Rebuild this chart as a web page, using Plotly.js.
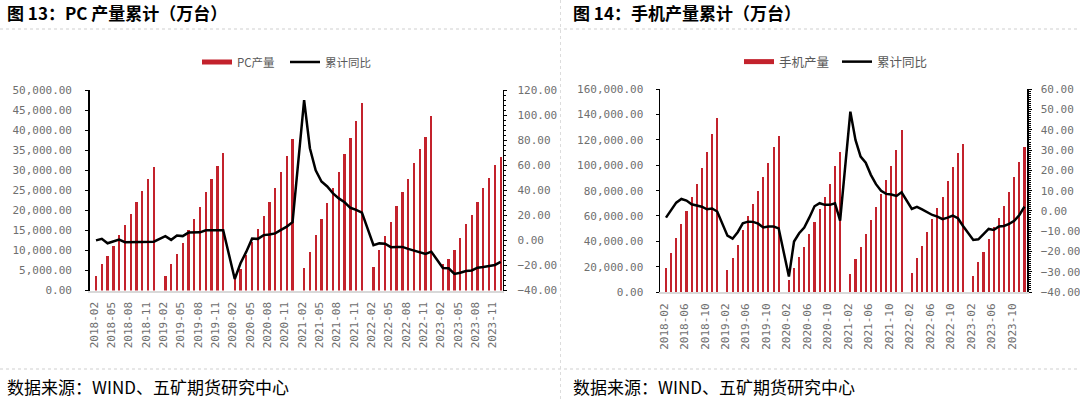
<!DOCTYPE html>
<html><head><meta charset="utf-8">
<script src="https://cdn.plot.ly/plotly-3.0.1.min.js"></script>
<style>html,body{margin:0;padding:0;background:#fff;}#chart{width:1080px;height:399px;}</style>
</head><body><div id="chart"></div>
<script>
// ---- categories (monthly, January has no cumulative data) ----
const months = [
 '2018-02','2018-03','2018-04','2018-05','2018-06','2018-07','2018-08','2018-09','2018-10','2018-11','2018-12',
 '2019-01','2019-02','2019-03','2019-04','2019-05','2019-06','2019-07','2019-08','2019-09','2019-10','2019-11','2019-12',
 '2020-01','2020-02','2020-03','2020-04','2020-05','2020-06','2020-07','2020-08','2020-09','2020-10','2020-11','2020-12',
 '2021-01','2021-02','2021-03','2021-04','2021-05','2021-06','2021-07','2021-08','2021-09','2021-10','2021-11','2021-12',
 '2022-01','2022-02','2022-03','2022-04','2022-05','2022-06','2022-07','2022-08','2022-09','2022-10','2022-11','2022-12',
 '2023-01','2023-02','2023-03','2023-04','2023-05','2023-06','2023-07','2023-08','2023-09','2023-10','2023-11','2023-12'
];
const pcTickLabels = ['2018-02','2018-05','2018-08','2018-11','2019-02','2019-05','2019-08','2019-11','2020-02','2020-05','2020-08','2020-11',
 '2021-02','2021-05','2021-08','2021-11','2022-02','2022-05','2022-08','2022-11','2023-02','2023-05','2023-08','2023-11'];
const phoneTickLabels = ['2018-02','2018-06','2018-10','2019-02','2019-06','2019-10','2020-02','2020-06','2020-10',
 '2021-02','2021-06','2021-10','2022-02','2022-06','2022-10','2023-02','2023-06','2023-10'];

// ---- 图13: PC 产量累计 (万台) ----
const pcOutput = [
 3690, 6600, 8600, 11170, 13760, 16260, 19000, 22070, 24810, 27730, 30800,
 null, 3690, 6600, 9020, 11770, 15010, 17910, 20820, 24560, 27730, 30970, 34210,
 null, 2870, 5360, 8780, 12170, 15260, 18650, 21990, 25640, 29550, 33540, 37860,
 null, 5690, 9680, 13920, 17830, 21900, 25560, 29550, 33960, 37950, 42270, 46830,
 null, 5860, 10100, 13590, 17010, 21150, 24560, 27890, 31720, 35210, 38250, 43590,
 null, 6500, 7930, 10100, 13170, 16580, 18830, 22070, 25480, 28130, 31220, 33220
];
const pcYoY = [
 0, 1.2, -2.3, -0.6, 0.6, -1.4, -1.4, -1.0, -1.4, -1.4, -1.0,
 null, 3.4, 0.4, 3.8, 3.4, 6.2, 6.4, 6.4, 8.1, 8.1, 8.1, 8.1,
 null, -30.8, -18.3, -9.0, 1.4, 1.2, 4.2, 4.7, 5.6, 8.4, 11.0, 14.5,
 null, 112.0, 73.5, 56.0, 47.0, 43.0, 37.5, 33.5, 30.4, 26.0, 24.4, 22.2,
 null, -3.8, -2.4, -2.6, -5.4, -5.2, -5.2, -6.8, -8.2, -9.2, -10.8, -9.0,
 null, -22.0, -22.3, -26.8, -25.8, -24.4, -24.0, -21.8, -21.2, -20.6, -19.6, -17.2
];

// ---- 图14: 手机产量累计 (万台) ----
const phoneOutput = [
 18940, 30780, 42880, 53400, 64200, 75250, 84980, 97600, 110240, 124440, 137600,
 null, 17100, 26570, 37360, 49200, 59990, 69460, 79980, 91030, 101820, 114450, 122870,
 null, 9210, 18680, 27630, 35780, 46040, 55510, 65250, 75250, 84980, 99450, 110240,
 null, 14210, 26050, 35780, 46040, 56830, 66830, 77350, 88670, 99450, 112080, 127600,
 null, 14730, 26570, 36570, 47100, 57620, 66560, 75250, 87610, 98930, 109450, 116550,
 null, 12890, 23420, 31840, 41570, 51570, 58670, 67880, 79190, 90770, 102870, 114450
];
const phoneYoY = [
 -3.3, 0.5, 4.1, 5.9, 5.1, 3.3, 2.6, 2.1, 0.8, 1.2, -0.3,
 null, -12.2, -13.7, -10.5, -6.1, -5.3, -5.4, -6.3, -8.2, -7.7, -7.7, -8.6,
 null, -32.4, -15.1, -11.0, -8.2, -3.2, 2.3, 3.8, 3.0, 3.0, 3.8, -4.8,
 null, 49.0, 35.0, 26.8, 23.8, 17.8, 13.2, 9.9, 8.4, 8.1, 7.4, 9.2,
 null, 1.0, 2.0, 0.8, -0.8, -2.0, -2.8, -4.1, -3.3, -2.3, -3.6, -7.4,
 null, -14.3, -14.0, -11.5, -8.9, -9.4, -7.7, -7.4, -6.4, -4.9, -2.0, 2.1
];

const W = 1080, H = 399;
const px = v => v / W;
const py = v => 1 - v / H;
const barColor = '#C3222C';
const tickFont = {family: 'DejaVu Sans Mono, monospace', size: 11, color: '#6f6f6f'};
const cjk = 'Noto Sans CJK SC, sans-serif';

const traces = [
  // legend proxy for bar series (flat rectangle icon)
  {type:'scatter', mode:'lines', x:[months[0]], y:[null], xaxis:'x', yaxis:'y', name:'PC产量',
   line:{color:barColor, width:5}, legend:'legend', hoverinfo:'skip'},
  {type:'bar', x:months, y:pcOutput, xaxis:'x', yaxis:'y', name:'PC产量', width:0.4,
   marker:{color:barColor, line:{width:0}}, showlegend:false},
  {type:'scatter', mode:'lines', x:months, y:pcYoY, xaxis:'x', yaxis:'y2', name:'累计同比',
   line:{color:'#000000', width:2.5}, connectgaps:true, legend:'legend'},

  {type:'scatter', mode:'lines', x:[months[0]], y:[null], xaxis:'x2', yaxis:'y3', name:'手机产量',
   line:{color:barColor, width:5}, legend:'legend2', hoverinfo:'skip'},
  {type:'bar', x:months, y:phoneOutput, xaxis:'x2', yaxis:'y3', name:'手机产量', width:0.4,
   marker:{color:barColor, line:{width:0}}, showlegend:false},
  {type:'scatter', mode:'lines', x:months, y:phoneYoY, xaxis:'x2', yaxis:'y4', name:'累计同比',
   line:{color:'#000000', width:2.5}, connectgaps:true, legend:'legend2'}
];

const xBase = {
  type:'category', tickmode:'array', tickangle:-90, ticks:'', showgrid:false, zeroline:false,
  showline:true, linecolor:'#d9d9d9', linewidth:2, tickfont:tickFont, ticklabelstandoff:5,
  ticklabelshift:-2, fixedrange:true
};
const yLeft = {
  showgrid:false, zeroline:false, showline:true, linecolor:'#000', linewidth:1.5,
  ticks:'outside', ticklen:3, tickcolor:'#000', tickwidth:1, tickfont:tickFont, ticklabelstandoff:9, fixedrange:true
};

const layout = {
  width: W, height: H, margin:{l:0, r:0, t:0, b:0},
  paper_bgcolor:'#ffffff', plot_bgcolor:'rgba(0,0,0,0)',
  barmode:'overlay', bargap:0,
  xaxis: Object.assign({}, xBase, {domain:[px(89.7), px(502.7)], anchor:'y', range:[-1.09, 70.35],
    tickvals: pcTickLabels, ticktext: pcTickLabels}),
  yaxis: Object.assign({}, yLeft, {domain:[py(290.5), py(90)], anchor:'x', range:[0, 50000], dtick:5000, tick0:0,
    tickformat:',.2f', ticklabelstandoff:11}),
  yaxis2: Object.assign({}, yLeft, {overlaying:'y', side:'right', anchor:'x', range:[-40, 120], dtick:20, tick0:0,
    tickformat:'.2f', ticklabelstandoff:8, minor:{ticks:'outside', ticklen:2, dtick:4, tickcolor:'#000', tickwidth:1}}),
  xaxis2: Object.assign({}, xBase, {domain:[px(660), px(1027)], anchor:'y3', range:[-1.17, 70.49],
    tickvals: phoneTickLabels, ticktext: phoneTickLabels}),
  yaxis3: Object.assign({}, yLeft, {domain:[py(292), py(89.3)], anchor:'x2', range:[0, 160000], dtick:20000, tick0:0,
    tickformat:',.2f', ticklabelstandoff:10}),
  yaxis4: Object.assign({}, yLeft, {overlaying:'y3', side:'right', anchor:'x2', range:[-40, 60], dtick:10, tick0:0,
    tickformat:'.2f', ticklabelstandoff:7, minor:{ticks:'outside', ticklen:2, dtick:1, tickcolor:'#000', tickwidth:1}}),
  legend: {orientation:'h', x:px(197), xanchor:'left', y:py(62), yanchor:'middle',
    font:{family:cjk, size:11.5, color:'#595959'}, bgcolor:'rgba(0,0,0,0)', traceorder:'normal', itemwidth:30,
    entrywidth:43, entrywidthmode:'pixels'},
  legend2: {orientation:'h', x:px(739), xanchor:'left', y:py(62), yanchor:'middle',
    font:{family:cjk, size:12.5, color:'#595959'}, bgcolor:'rgba(0,0,0,0)', traceorder:'normal', itemwidth:30,
    entrywidth:53, entrywidthmode:'pixels'},
  shapes: [
    {type:'line', xref:'paper', yref:'paper', x0:0, x1:1, y0:py(29), y1:py(29), line:{color:'#cfcfcf', width:1, dash:'dot'}},
    {type:'line', xref:'paper', yref:'paper', x0:0, x1:1, y0:py(369), y1:py(369), line:{color:'#cfcfcf', width:1, dash:'dot'}},
    {type:'line', xref:'paper', yref:'paper', x0:px(560.5), x1:px(560.5), y0:0, y1:1, line:{color:'#dcdcdc', width:1, dash:'dot'}}
  ],
  annotations: [
    {text:'<b>图 13：PC 产量累计（万台）</b>', xref:'paper', yref:'paper', x:px(5), y:py(12.5), xanchor:'left', yanchor:'middle',
     showarrow:false, font:{family:cjk, size:17, color:'#000'}},
    {text:'<b>图 14：手机产量累计（万台）</b>', xref:'paper', yref:'paper', x:px(571), y:py(12.5), xanchor:'left', yanchor:'middle',
     showarrow:false, font:{family:cjk, size:17, color:'#000'}},
    {text:'数据来源：WIND、五矿期货研究中心', xref:'paper', yref:'paper', x:px(5), y:py(386.5), xanchor:'left', yanchor:'middle',
     showarrow:false, font:{family:cjk, size:17, color:'#000'}},
    {text:'数据来源：WIND、五矿期货研究中心', xref:'paper', yref:'paper', x:px(571), y:py(386.5), xanchor:'left', yanchor:'middle',
     showarrow:false, font:{family:cjk, size:17, color:'#000'}}
  ]
};

Plotly.newPlot('chart', traces, layout, {displayModeBar:false, staticPlot:true});
</script></body></html>
